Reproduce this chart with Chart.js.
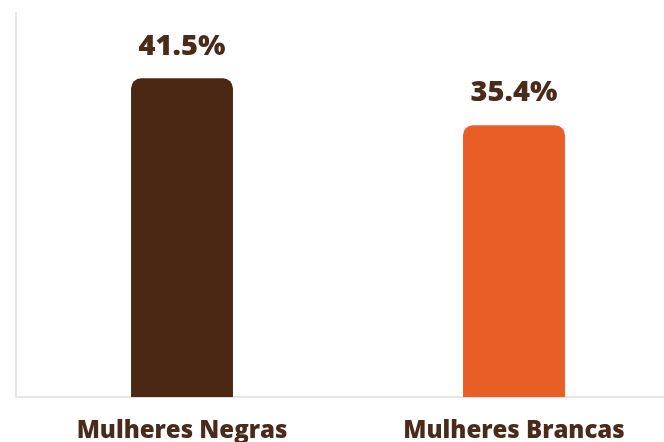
<!DOCTYPE html>
<html>
<head>
<meta charset="utf-8">
<script src="https://cdn.jsdelivr.net/npm/chart.js@4"></script>
<style>
  html, body { margin: 0; padding: 0; background: #fff; overflow: hidden; }
  #wrap { position: absolute; left: 0; top: 0; width: 680px; height: 458px; }
</style>
</head>
<body>
<div id="wrap"><canvas id="chart" width="680" height="458"></canvas></div>
<script>
const categories = ['Mulheres Negras', 'Mulheres Brancas'];
const values = [41.5, 35.4];
const valueLabels = ['41.5%', '35.4%'];
const barColors = ['#4a2814', '#e85e26'];

const textColor = '#4a2a18';
const fontFamily = '"Open Sans", Roboto, sans-serif';

const valueLabelPlugin = {
    id: 'valueLabels',
    afterDatasetsDraw(chart) {
        const ctx = chart.ctx;
        const meta = chart.getDatasetMeta(0);
        ctx.save();
        ctx.font = `800 29px ${fontFamily}`;
        ctx.fillStyle = textColor;
        ctx.textAlign = 'center';
        ctx.textBaseline = 'middle';
        meta.data.forEach((bar, i) => {
            ctx.fillText(valueLabels[i], bar.x, bar.y - 32);
        });
        ctx.restore();
    }
};

new Chart(document.getElementById('chart').getContext('2d'), {
    type: 'bar',
    data: {
        labels: categories,
        datasets: [{
            data: values,
            backgroundColor: barColors,
            borderRadius: { topLeft: 10, topRight: 10 },
            borderSkipped: 'start',
            categoryPercentage: 1,
            barPercentage: 0.307
        }]
    },
    options: {
        responsive: false,
        animation: false,
        layout: { padding: { top: 13, left: 8, right: 0, bottom: 0 } },
        plugins: {
            legend: { display: false },
            tooltip: { enabled: false }
        },
        scales: {
            x: {
                grid: { display: false },
                border: { display: true, color: '#e6e6e6', width: 2 },
                ticks: {
                    color: textColor,
                    padding: 12,
                    font: { family: fontFamily, size: 24, weight: '800' }
                }
            },
            y: {
                min: 0,
                max: 50,
                grid: { display: false },
                border: { display: true, color: '#e6e6e6', width: 2 },
                ticks: { display: false }
            }
        }
    },
    plugins: [valueLabelPlugin]
});
</script>
</body>
</html>
